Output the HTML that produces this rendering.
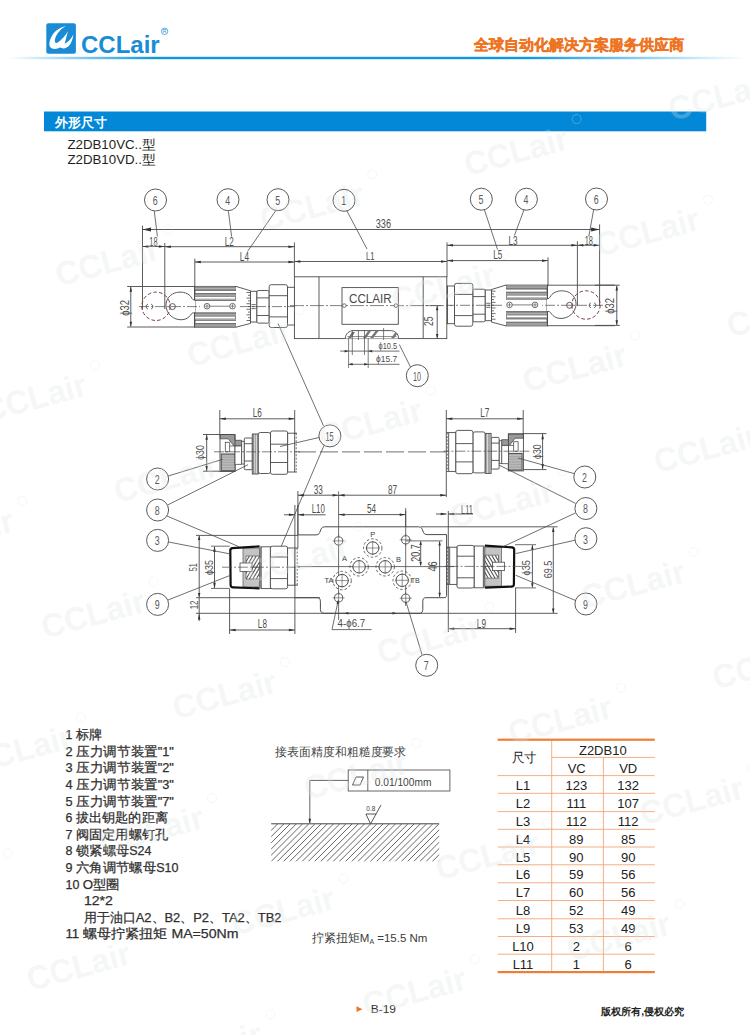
<!DOCTYPE html><html><head><meta charset="utf-8"><title>Z2DB10 外形尺寸</title><style>html,body{margin:0;padding:0;background:#fff;}body{width:750px;height:1035px;overflow:hidden;font-family:"Liberation Sans",sans-serif;}svg{display:block;}text{font-family:"Liberation Sans",sans-serif;}</style></head><body>
<svg width="750" height="1035" viewBox="0 0 750 1035">
<rect width="750" height="1035" fill="#fff"/>
<defs><linearGradient id="hl" x1="0" x2="1" y1="0" y2="0"><stop offset="0" stop-color="#0b97df" stop-opacity="0"/><stop offset="0.2" stop-color="#0b97df" stop-opacity="1"/><stop offset="0.7" stop-color="#0b97df" stop-opacity="1"/><stop offset="1" stop-color="#0b97df" stop-opacity="0"/></linearGradient></defs>
<rect x="8" y="56.8" width="738" height="2.4" fill="url(#hl)"/>
<rect x="46.3" y="23.3" width="29.6" height="30.5" rx="2" fill="#1a8cd6"/>
<path d="M65.9,26.1 C59.5,27.6 53.8,31.8 51.2,37.2 C48.8,42.2 48.8,46.4 51.2,48 C53.6,49.6 57.6,49.2 60,47.6 C63.2,49.2 66.8,48.4 69.2,45.6 C71.4,43 72.8,38.6 73.4,34.4 C71.6,38.4 68.4,41.8 64.6,43.8 C65.6,40 66.8,35.6 68,31.2 C65.4,35.4 61.6,40 57.8,42.6 C55.2,44 54.2,41.6 55.2,38.4 C56.6,34 60.6,29.2 65.9,26.1 Z" fill="#fff"/>
<text x="81.0" y="52.7" font-size="23.3" text-anchor="start" fill="#1a8cd6" font-weight="bold" font-family="Liberation Sans, sans-serif" textLength="78.7" lengthAdjust="spacingAndGlyphs" >CCLair</text>
<circle cx="164.6" cy="31.3" r="3.2" fill="none" stroke="#1a8cd6" stroke-width="0.7"/>
<text x="164.6" y="33.3" font-size="5" text-anchor="middle" fill="#1a8cd6" font-weight="normal" font-family="Liberation Sans, sans-serif" >R</text>
<text x="473.6" y="50.2" font-size="15" text-anchor="start" fill="#ee7423" font-weight="bold" font-family="Liberation Sans, sans-serif" textLength="210" lengthAdjust="spacingAndGlyphs" stroke="#ee7423" stroke-width="0.45">全球自动化解决方案服务供应商</text>
<rect x="44" y="111.5" width="662.2" height="19.8" fill="#0388d8"/>
<text x="55.0" y="127.3" font-size="13" text-anchor="start" fill="#fff" font-weight="bold" font-family="Liberation Sans, sans-serif" textLength="52" lengthAdjust="spacingAndGlyphs" >外形尺寸</text>
<text x="67.4" y="149.4" font-size="12.5" text-anchor="start" fill="#231f20" font-weight="normal" font-family="Liberation Sans, sans-serif" textLength="88.4" lengthAdjust="spacingAndGlyphs" >Z2DB10VC..型</text>
<text x="67.4" y="163.9" font-size="12.5" text-anchor="start" fill="#231f20" font-weight="normal" font-family="Liberation Sans, sans-serif" textLength="88.4" lengthAdjust="spacingAndGlyphs" >Z2DB10VD..型</text>
<line x1="142.5" y1="225.6" x2="142.5" y2="309.2" stroke="#4a4a4a" stroke-width="0.9" />
<line x1="164.8" y1="243.0" x2="164.8" y2="309.0" stroke="#4a4a4a" stroke-width="0.9" />
<line x1="194.8" y1="258.7" x2="194.8" y2="287.0" stroke="#4a4a4a" stroke-width="0.9" />
<line x1="294.4" y1="242.4" x2="294.4" y2="277.0" stroke="#4a4a4a" stroke-width="0.9" />
<line x1="447.0" y1="242.4" x2="447.0" y2="277.0" stroke="#4a4a4a" stroke-width="0.9" />
<line x1="548.0" y1="257.3" x2="548.0" y2="286.0" stroke="#4a4a4a" stroke-width="0.9" />
<line x1="577.4" y1="241.2" x2="577.4" y2="306.0" stroke="#4a4a4a" stroke-width="0.9" />
<line x1="599.6" y1="224.4" x2="599.6" y2="306.0" stroke="#4a4a4a" stroke-width="0.9" />
<line x1="142.5" y1="229.5" x2="599.6" y2="229.5" stroke="#4a4a4a" stroke-width="0.9" />
<path d="M142.5,229.5 L151.0,227.6 L151.0,231.4 Z" fill="#333" stroke="none"/>
<path d="M599.6,229.5 L591.1,231.4 L591.1,227.6 Z" fill="#333" stroke="none"/>
<text x="0" y="0" font-size="12" text-anchor="middle" fill="#4d4d4d" font-weight="normal" font-family="Liberation Sans, sans-serif" transform="translate(383.40 227.70) scale(0.76 1)" >336</text>
<line x1="142.5" y1="246.5" x2="164.8" y2="246.5" stroke="#4a4a4a" stroke-width="0.9" />
<path d="M142.5,246.5 L148.5,245.2 L148.5,247.8 Z" fill="#333" stroke="none"/>
<path d="M164.8,246.5 L158.8,247.8 L158.8,245.2 Z" fill="#333" stroke="none"/>
<text x="0" y="0" font-size="12" text-anchor="middle" fill="#4d4d4d" font-weight="normal" font-family="Liberation Sans, sans-serif" transform="translate(153.50 245.60) scale(0.62 1)" >18</text>
<line x1="577.4" y1="245.3" x2="599.6" y2="245.3" stroke="#4a4a4a" stroke-width="0.9" />
<path d="M577.4,245.3 L583.4,244.1 L583.4,246.6 Z" fill="#333" stroke="none"/>
<path d="M599.6,245.3 L593.6,246.6 L593.6,244.1 Z" fill="#333" stroke="none"/>
<text x="0" y="0" font-size="12" text-anchor="middle" fill="#4d4d4d" font-weight="normal" font-family="Liberation Sans, sans-serif" transform="translate(588.80 244.50) scale(0.62 1)" >18</text>
<line x1="164.8" y1="246.7" x2="294.4" y2="246.7" stroke="#4a4a4a" stroke-width="0.9" />
<path d="M164.8,246.7 L170.8,245.4 L170.8,247.9 Z" fill="#333" stroke="none"/>
<path d="M294.4,246.7 L288.4,247.9 L288.4,245.4 Z" fill="#333" stroke="none"/>
<text x="0" y="0" font-size="12" text-anchor="middle" fill="#4d4d4d" font-weight="normal" font-family="Liberation Sans, sans-serif" transform="translate(229.20 245.60) scale(0.68 1)" >L2</text>
<line x1="194.8" y1="262.0" x2="294.4" y2="262.0" stroke="#4a4a4a" stroke-width="0.9" />
<path d="M194.8,262.0 L200.8,260.8 L200.8,263.2 Z" fill="#333" stroke="none"/>
<path d="M294.4,262.0 L288.4,263.2 L288.4,260.8 Z" fill="#333" stroke="none"/>
<text x="0" y="0" font-size="12" text-anchor="middle" fill="#4d4d4d" font-weight="normal" font-family="Liberation Sans, sans-serif" transform="translate(244.40 260.80) scale(0.68 1)" >L4</text>
<line x1="294.4" y1="261.5" x2="447.0" y2="261.5" stroke="#4a4a4a" stroke-width="0.9" />
<path d="M294.4,261.5 L300.4,260.2 L300.4,262.8 Z" fill="#333" stroke="none"/>
<path d="M447.0,261.5 L441.0,262.8 L441.0,260.2 Z" fill="#333" stroke="none"/>
<text x="0" y="0" font-size="11.3" text-anchor="middle" fill="#4d4d4d" font-weight="normal" font-family="Liberation Sans, sans-serif" transform="translate(370.20 259.70) scale(0.68 1)" >L1</text>
<line x1="447.0" y1="245.3" x2="577.4" y2="245.3" stroke="#4a4a4a" stroke-width="0.9" />
<path d="M447.0,245.3 L453.0,244.1 L453.0,246.6 Z" fill="#333" stroke="none"/>
<path d="M577.4,245.3 L571.4,246.6 L571.4,244.1 Z" fill="#333" stroke="none"/>
<text x="0" y="0" font-size="12" text-anchor="middle" fill="#4d4d4d" font-weight="normal" font-family="Liberation Sans, sans-serif" transform="translate(513.00 244.70) scale(0.68 1)" >L3</text>
<line x1="447.0" y1="260.6" x2="548.0" y2="260.6" stroke="#4a4a4a" stroke-width="0.9" />
<path d="M447.0,260.6 L453.0,259.4 L453.0,261.9 Z" fill="#333" stroke="none"/>
<path d="M548.0,260.6 L542.0,261.9 L542.0,259.4 Z" fill="#333" stroke="none"/>
<text x="0" y="0" font-size="12" text-anchor="middle" fill="#4d4d4d" font-weight="normal" font-family="Liberation Sans, sans-serif" transform="translate(497.70 259.10) scale(0.68 1)" >L5</text>
<circle cx="155.5" cy="200.0" r="11.0" fill="none" stroke="#5a5a5a" stroke-width="1.0"/>
<text x="0" y="0" font-size="13.4" text-anchor="middle" fill="#5a5a5a" font-weight="normal" font-family="Liberation Sans, sans-serif" transform="translate(155.10 204.80) scale(0.66 1)" >6</text>
<circle cx="228.0" cy="199.7" r="11.0" fill="none" stroke="#5a5a5a" stroke-width="1.0"/>
<text x="0" y="0" font-size="13.4" text-anchor="middle" fill="#5a5a5a" font-weight="normal" font-family="Liberation Sans, sans-serif" transform="translate(227.60 204.50) scale(0.66 1)" >4</text>
<circle cx="278.0" cy="199.7" r="11.0" fill="none" stroke="#5a5a5a" stroke-width="1.0"/>
<text x="0" y="0" font-size="13.4" text-anchor="middle" fill="#5a5a5a" font-weight="normal" font-family="Liberation Sans, sans-serif" transform="translate(277.60 204.50) scale(0.66 1)" >5</text>
<circle cx="344.0" cy="200.3" r="11.0" fill="none" stroke="#5a5a5a" stroke-width="1.0"/>
<text x="0" y="0" font-size="13.4" text-anchor="middle" fill="#5a5a5a" font-weight="normal" font-family="Liberation Sans, sans-serif" transform="translate(343.60 205.10) scale(0.66 1)" >1</text>
<circle cx="481.3" cy="199.2" r="11.0" fill="none" stroke="#5a5a5a" stroke-width="1.0"/>
<text x="0" y="0" font-size="13.4" text-anchor="middle" fill="#5a5a5a" font-weight="normal" font-family="Liberation Sans, sans-serif" transform="translate(480.90 204.00) scale(0.66 1)" >5</text>
<circle cx="526.4" cy="199.2" r="11.0" fill="none" stroke="#5a5a5a" stroke-width="1.0"/>
<text x="0" y="0" font-size="13.4" text-anchor="middle" fill="#5a5a5a" font-weight="normal" font-family="Liberation Sans, sans-serif" transform="translate(526.00 204.00) scale(0.66 1)" >4</text>
<circle cx="596.5" cy="199.0" r="11.0" fill="none" stroke="#5a5a5a" stroke-width="1.0"/>
<text x="0" y="0" font-size="13.4" text-anchor="middle" fill="#5a5a5a" font-weight="normal" font-family="Liberation Sans, sans-serif" transform="translate(596.10 203.80) scale(0.66 1)" >6</text>
<line x1="154.3" y1="211.2" x2="157.4" y2="236.5" stroke="#4a4a4a" stroke-width="0.8" />
<line x1="228.4" y1="211.2" x2="231.6" y2="236.5" stroke="#4a4a4a" stroke-width="0.8" />
<line x1="275.5" y1="211.0" x2="247.5" y2="251.5" stroke="#4a4a4a" stroke-width="0.8" />
<line x1="346.9" y1="210.9" x2="367.0" y2="249.0" stroke="#4a4a4a" stroke-width="0.8" />
<line x1="484.4" y1="209.8" x2="497.6" y2="249.6" stroke="#4a4a4a" stroke-width="0.8" />
<line x1="524.0" y1="209.8" x2="514.4" y2="235.5" stroke="#4a4a4a" stroke-width="0.8" />
<line x1="593.6" y1="209.9" x2="588.8" y2="236.5" stroke="#4a4a4a" stroke-width="0.8" />
<g id="act1L">
<line x1="127.2" y1="286.5" x2="195.0" y2="286.5" stroke="#4a4a4a" stroke-width="0.9" />
<line x1="127.2" y1="327.0" x2="195.0" y2="327.0" stroke="#4a4a4a" stroke-width="0.9" />
<rect x="194.6" y="286.4" width="41.2" height="40.8" rx="0" fill="#fff" stroke="#4a4a4a" stroke-width="0.9" />
<rect x="195" y="286.6" width="40.6" height="3.8" fill="#8e8e8e"/>
<line x1="195" y1="288.5" x2="235.6" y2="288.5" stroke="#d0d0d0" stroke-width="0.5"/>
<rect x="195" y="293.4" width="40.6" height="3.6" fill="#8e8e8e"/>
<line x1="195" y1="295.2" x2="235.6" y2="295.2" stroke="#d0d0d0" stroke-width="0.5"/>
<rect x="195" y="298.7" width="40.6" height="1.8" fill="#8e8e8e"/>
<line x1="195" y1="299.6" x2="235.6" y2="299.6" stroke="#d0d0d0" stroke-width="0.5"/>
<rect x="195" y="312.8" width="40.6" height="4.0" fill="#8e8e8e"/>
<line x1="195" y1="314.8" x2="235.6" y2="314.8" stroke="#d0d0d0" stroke-width="0.5"/>
<rect x="195" y="318.5" width="40.6" height="1.8" fill="#8e8e8e"/>
<line x1="195" y1="319.4" x2="235.6" y2="319.4" stroke="#d0d0d0" stroke-width="0.5"/>
<rect x="195" y="323.4" width="40.6" height="3.6" fill="#8e8e8e"/>
<line x1="195" y1="325.2" x2="235.6" y2="325.2" stroke="#d0d0d0" stroke-width="0.5"/>
<rect x="195.0" y="290.4" width="43.0" height="3.0" rx="0" fill="#fff" stroke="#4a4a4a" stroke-width="0.7" />
<rect x="195.0" y="300.5" width="43.0" height="12.3" rx="0" fill="#fff" stroke="#4a4a4a" stroke-width="0.7" />
<rect x="195.0" y="320.3" width="43.0" height="3.1" rx="0" fill="#fff" stroke="#4a4a4a" stroke-width="0.7" />
<line x1="194.6" y1="286.4" x2="194.6" y2="327.2" stroke="#4a4a4a" stroke-width="0.9" />
<path d="M236,286.4 L250.5,290.8 L250.5,323.4 L236,327.2" fill="#fff" stroke="#4a4a4a" stroke-width="0.9" />
<line x1="246.5" y1="292.5" x2="250.5" y2="292.5" stroke="#4a4a4a" stroke-width="0.8" />
<line x1="248.0" y1="295.3" x2="250.5" y2="295.3" stroke="#4a4a4a" stroke-width="0.8" />
<line x1="246.5" y1="298.1" x2="250.5" y2="298.1" stroke="#4a4a4a" stroke-width="0.8" />
<line x1="248.0" y1="300.9" x2="250.5" y2="300.9" stroke="#4a4a4a" stroke-width="0.8" />
<line x1="246.5" y1="303.7" x2="250.5" y2="303.7" stroke="#4a4a4a" stroke-width="0.8" />
<line x1="248.0" y1="306.5" x2="250.5" y2="306.5" stroke="#4a4a4a" stroke-width="0.8" />
<line x1="246.5" y1="309.3" x2="250.5" y2="309.3" stroke="#4a4a4a" stroke-width="0.8" />
<line x1="248.0" y1="312.1" x2="250.5" y2="312.1" stroke="#4a4a4a" stroke-width="0.8" />
<line x1="246.5" y1="314.9" x2="250.5" y2="314.9" stroke="#4a4a4a" stroke-width="0.8" />
<line x1="248.0" y1="317.7" x2="250.5" y2="317.7" stroke="#4a4a4a" stroke-width="0.8" />
<line x1="246.5" y1="320.5" x2="250.5" y2="320.5" stroke="#4a4a4a" stroke-width="0.8" />
<rect x="250.5" y="291.3" width="6.4" height="30.7" rx="0" fill="#fff" stroke="#4a4a4a" stroke-width="0.9" />
<line x1="251.5" y1="304.6" x2="255.8" y2="304.6" stroke="#4a4a4a" stroke-width="0.8" />
<line x1="251.5" y1="306.6" x2="255.8" y2="306.6" stroke="#4a4a4a" stroke-width="0.8" />
<line x1="251.5" y1="308.6" x2="255.8" y2="308.6" stroke="#4a4a4a" stroke-width="0.8" />
<rect x="256.9" y="290.5" width="12.3" height="32.6" rx="1.5" fill="#fff" stroke="#4a4a4a" stroke-width="0.9" />
<line x1="256.9" y1="297.9" x2="269.2" y2="297.9" stroke="#4a4a4a" stroke-width="0.9" />
<line x1="256.9" y1="315.5" x2="269.2" y2="315.5" stroke="#4a4a4a" stroke-width="0.9" />
<rect x="269.2" y="284.7" width="18.3" height="42.8" rx="2" fill="#fff" stroke="#4a4a4a" stroke-width="0.9" />
<line x1="269.2" y1="295.7" x2="287.5" y2="295.7" stroke="#4a4a4a" stroke-width="0.9" />
<line x1="269.2" y1="316.9" x2="287.5" y2="316.9" stroke="#4a4a4a" stroke-width="0.9" />
<rect x="287.5" y="287.3" width="7.0" height="37.7" rx="0" fill="#fff" stroke="#4a4a4a" stroke-width="0.9" />
<line x1="295.9" y1="287.3" x2="295.9" y2="325.0" stroke="#4a4a4a" stroke-width="0.9" stroke-dasharray="2,1.5" />
<line x1="294.5" y1="287.3" x2="297.4" y2="287.3" stroke="#4a4a4a" stroke-width="0.9" />
<line x1="294.5" y1="325.0" x2="297.4" y2="325.0" stroke="#4a4a4a" stroke-width="0.9" />
<path d="M195,300.2 C192,300.2 191.5,297 190,295.6 C185,291 177,291.5 172.5,294 C166.5,297.5 165,304 166.5,309 C168.5,316.5 177,321.5 185,319.2 C188.5,318 190,316 191.5,313.8 C192.5,312.6 193.5,312.8 195,312.8" fill="#fff" stroke="#4a4a4a" stroke-width="0.9" />
<circle cx="172.4" cy="306.6" r="3.0" fill="none" stroke="#4a4a4a" stroke-width="0.9"/>
<circle cx="156.0" cy="306.3" r="14.2" fill="none" stroke="#7a3c44" stroke-width="1.0" stroke-dasharray="3.6,2.2"/>
<path d="M148,304.1 A2.6,2.6 0 0 0 148,309.1" fill="none" stroke="#4a4a4a" stroke-width="0.8" />
<path d="M151,304.1 A2.6,2.6 0 0 1 151,309.1" fill="none" stroke="#4a4a4a" stroke-width="0.8" />
<circle cx="207.0" cy="306.2" r="2.8" fill="#fff" stroke="#4a4a4a" stroke-width="0.8"/>
<line x1="205.0" y1="306.2" x2="209.0" y2="306.2" stroke="#4a4a4a" stroke-width="0.6" />
<line x1="207.0" y1="304.2" x2="207.0" y2="308.2" stroke="#4a4a4a" stroke-width="0.6" />
<circle cx="232.5" cy="306.2" r="2.8" fill="#fff" stroke="#4a4a4a" stroke-width="0.8"/>
<line x1="230.5" y1="306.2" x2="234.5" y2="306.2" stroke="#4a4a4a" stroke-width="0.6" />
<line x1="232.5" y1="304.2" x2="232.5" y2="308.2" stroke="#4a4a4a" stroke-width="0.6" />
<line x1="209.8" y1="306.2" x2="229.7" y2="306.2" stroke="#4a4a4a" stroke-width="0.7" />
<line x1="139.0" y1="306.6" x2="200.0" y2="306.6" stroke="#4a4a4a" stroke-width="0.7" stroke-dasharray="10,2,2,2" />
<line x1="240.0" y1="306.6" x2="300.0" y2="306.6" stroke="#4a4a4a" stroke-width="0.7" stroke-dasharray="10,2,2,2" />
</g>
<use href="#act1L" transform="translate(742,-1.3) scale(-1,1)"/>
<line x1="130.8" y1="287.0" x2="130.8" y2="326.5" stroke="#4a4a4a" stroke-width="0.9" />
<path d="M130.8,286.8 L132.1,291.8 L129.6,291.8 Z" fill="#333" stroke="none"/>
<path d="M130.8,326.8 L129.6,321.8 L132.1,321.8 Z" fill="#333" stroke="none"/>
<text x="0" y="0" font-size="12" text-anchor="middle" fill="#4d4d4d" font-weight="normal" font-family="Liberation Sans, sans-serif" transform="translate(128.60 307.90) rotate(-90) scale(0.78 1)" >ϕ32</text>
<line x1="595.0" y1="285.2" x2="619.8" y2="285.2" stroke="#4a4a4a" stroke-width="0.9" />
<line x1="595.0" y1="325.4" x2="619.8" y2="325.4" stroke="#4a4a4a" stroke-width="0.9" />
<line x1="616.8" y1="285.7" x2="616.8" y2="325.0" stroke="#4a4a4a" stroke-width="0.9" />
<path d="M616.8,285.4 L618.0,290.4 L615.5,290.4 Z" fill="#333" stroke="none"/>
<path d="M616.8,325.2 L615.5,320.2 L618.0,320.2 Z" fill="#333" stroke="none"/>
<text x="0" y="0" font-size="12" text-anchor="middle" fill="#4d4d4d" font-weight="normal" font-family="Liberation Sans, sans-serif" transform="translate(614.30 305.90) rotate(-90) scale(0.78 1)" >ϕ32</text>
<rect x="294.4" y="276.8" width="152.4" height="61.8" rx="0" fill="#fff" stroke="#4a4a4a" stroke-width="0.9" />
<line x1="319.0" y1="276.8" x2="319.0" y2="338.6" stroke="#4a4a4a" stroke-width="0.9" />
<line x1="423.2" y1="276.8" x2="423.2" y2="338.6" stroke="#4a4a4a" stroke-width="0.9" />
<rect x="342.0" y="287.6" width="56.3" height="36.7" rx="0" fill="#fff" stroke="#4a4a4a" stroke-width="0.9" />
<text x="349.0" y="302.7" font-size="12.5" text-anchor="start" fill="#484848" font-weight="normal" font-family="Liberation Sans, sans-serif" textLength="42.6" lengthAdjust="spacingAndGlyphs" >CCLAIR</text>
<line x1="290.0" y1="305.6" x2="452.0" y2="305.6" stroke="#4a4a4a" stroke-width="0.7" stroke-dasharray="14,2,2,2" />
<circle cx="344.3" cy="305.6" r="1.8" fill="#fff" stroke="#4a4a4a" stroke-width="0.8"/>
<circle cx="395.9" cy="305.6" r="1.8" fill="#fff" stroke="#4a4a4a" stroke-width="0.8"/>
<path d="M345.3,338.6 C345.5,333.5 349,330.6 354,330.6 L390,330.6 C395,330.6 398.4,333.5 398.6,338.6" fill="#fff" stroke="#4a4a4a" stroke-width="0.9" />
<line x1="347.5" y1="336.5" x2="396.5" y2="336.5" stroke="#4a4a4a" stroke-width="0.6" />
<path d="M348,338.3 L352,332 L355,332 L351,338.3 Z M363,338.3 L368,331 L371,331 L366,338.3 Z M370,338.3 L375.5,331 L378.5,331 L373,338.3 Z M391,338.3 L395.5,332 L397.5,333.5 L394,338.3 Z" fill="#777"/>
<line x1="348.6" y1="338.0" x2="348.6" y2="368.0" stroke="#4a4a4a" stroke-width="0.7" />
<line x1="352.3" y1="330.0" x2="352.3" y2="355.0" stroke="#4a4a4a" stroke-width="0.7" />
<line x1="358.4" y1="330.0" x2="358.4" y2="340.0" stroke="#4a4a4a" stroke-width="0.7" />
<line x1="364.5" y1="330.0" x2="364.5" y2="355.0" stroke="#4a4a4a" stroke-width="0.7" />
<line x1="368.2" y1="338.0" x2="368.2" y2="368.0" stroke="#4a4a4a" stroke-width="0.7" />
<line x1="383.6" y1="328.0" x2="383.6" y2="340.0" stroke="#4a4a4a" stroke-width="0.7" />
<line x1="340.2" y1="351.1" x2="399.5" y2="351.1" stroke="#4a4a4a" stroke-width="0.8" />
<path d="M348.6,351.1 L344.6,352.4 L344.6,349.9 Z" fill="#333" stroke="none"/>
<path d="M368.2,351.1 L372.2,349.9 L372.2,352.4 Z" fill="#333" stroke="none"/>
<text x="0" y="0" font-size="9.8" text-anchor="start" fill="#4d4d4d" font-weight="normal" font-family="Liberation Sans, sans-serif" transform="translate(378.50 348.60) scale(0.76 1)" >ϕ10.5</text>
<line x1="348.6" y1="364.3" x2="399.5" y2="364.3" stroke="#4a4a4a" stroke-width="0.8" />
<path d="M348.6,364.3 L352.6,363.1 L352.6,365.6 Z" fill="#333" stroke="none"/>
<path d="M368.2,364.3 L364.2,365.6 L364.2,363.1 Z" fill="#333" stroke="none"/>
<text x="0" y="0" font-size="9.8" text-anchor="start" fill="#4d4d4d" font-weight="normal" font-family="Liberation Sans, sans-serif" transform="translate(376.10 361.70) scale(0.86 1)" >ϕ15.7</text>
<circle cx="417.3" cy="375.7" r="11.0" fill="none" stroke="#5a5a5a" stroke-width="1.0"/>
<text x="0" y="0" font-size="13.4" text-anchor="middle" fill="#5a5a5a" font-weight="normal" font-family="Liberation Sans, sans-serif" transform="translate(416.90 380.50) scale(0.54 1)" >10</text>
<line x1="410.5" y1="367.0" x2="399.3" y2="344.5" stroke="#4a4a4a" stroke-width="0.8" />
<line x1="425.0" y1="305.6" x2="441.0" y2="305.6" stroke="#4a4a4a" stroke-width="0.6" />
<line x1="437.2" y1="306.0" x2="437.2" y2="338.2" stroke="#4a4a4a" stroke-width="0.9" />
<path d="M437.2,305.8 L438.4,310.3 L435.9,310.3 Z" fill="#333" stroke="none"/>
<path d="M437.2,338.4 L435.9,333.9 L438.4,333.9 Z" fill="#333" stroke="none"/>
<text x="0" y="0" font-size="12" text-anchor="middle" fill="#4d4d4d" font-weight="normal" font-family="Liberation Sans, sans-serif" transform="translate(433.40 321.20) rotate(-90) scale(0.72 1)" >25</text>
<g id="act2L">
<path d="M220,434.5 L235,434.5 L235,440.3 L241.7,440.3 L241.7,446 L234,446 L228.3,438.8 L220,438.8 Z" fill="#9a9a9a" stroke="#4a4a4a" stroke-width="0.8"/>
<rect x="220.0" y="434.5" width="15.0" height="37.0" rx="0" fill="none" stroke="#4a4a4a" stroke-width="0.9" />
<rect x="225.3" y="442.3" width="4.4" height="9.5" rx="0" fill="#fff" stroke="#4a4a4a" stroke-width="0.8" />
<line x1="229.7" y1="446.0" x2="234.0" y2="446.0" stroke="#4a4a4a" stroke-width="0.8" />
<rect x="221.3" y="454.0" width="13.7" height="16.7" rx="0" fill="#a8a8a8" stroke="#4a4a4a" stroke-width="1.0" />
<line x1="221.8" y1="456.0" x2="234.5" y2="456.0" stroke="#d8d8d8" stroke-width="0.5" />
<line x1="221.8" y1="458.6" x2="234.5" y2="458.6" stroke="#d8d8d8" stroke-width="0.5" />
<line x1="221.8" y1="461.2" x2="234.5" y2="461.2" stroke="#d8d8d8" stroke-width="0.5" />
<line x1="221.8" y1="463.8" x2="234.5" y2="463.8" stroke="#d8d8d8" stroke-width="0.5" />
<line x1="221.8" y1="466.4" x2="234.5" y2="466.4" stroke="#d8d8d8" stroke-width="0.5" />
<line x1="221.8" y1="469.0" x2="234.5" y2="469.0" stroke="#d8d8d8" stroke-width="0.5" />
<rect x="235.0" y="446.0" width="6.7" height="18.3" rx="0" fill="#fff" stroke="#4a4a4a" stroke-width="0.8" />
<rect x="241.7" y="441.3" width="2.6" height="22.7" rx="0" fill="#fff" stroke="#4a4a4a" stroke-width="0.8" />
<rect x="244.3" y="438.0" width="8.0" height="31.7" rx="1" fill="#fff" stroke="#4a4a4a" stroke-width="0.9" />
<line x1="244.3" y1="443.7" x2="252.3" y2="443.7" stroke="#4a4a4a" stroke-width="0.9" />
<line x1="244.3" y1="461.0" x2="252.3" y2="461.0" stroke="#4a4a4a" stroke-width="0.9" />
<rect x="252.3" y="434.0" width="6.0" height="40.0" rx="0" fill="#fff" stroke="#4a4a4a" stroke-width="0.9" />
<line x1="253.6" y1="434.0" x2="253.6" y2="474.0" stroke="#4a4a4a" stroke-width="0.7" />
<line x1="255.2" y1="434.0" x2="255.2" y2="474.0" stroke="#4a4a4a" stroke-width="0.7" />
<line x1="257.2" y1="434.0" x2="257.2" y2="474.0" stroke="#4a4a4a" stroke-width="0.7" />
<rect x="258.3" y="432.5" width="12.2" height="41.0" rx="2" fill="#fff" stroke="#4a4a4a" stroke-width="0.9" />
<rect x="270.5" y="431.0" width="17.2" height="43.3" rx="2" fill="#fff" stroke="#4a4a4a" stroke-width="0.9" />
<line x1="270.5" y1="444.2" x2="287.7" y2="444.2" stroke="#4a4a4a" stroke-width="0.9" />
<line x1="270.5" y1="462.5" x2="287.7" y2="462.5" stroke="#4a4a4a" stroke-width="0.9" />
<rect x="287.7" y="433.2" width="7.0" height="38.8" rx="0" fill="#fff" stroke="#4a4a4a" stroke-width="0.9" />
<line x1="296.2" y1="433.2" x2="296.2" y2="472.0" stroke="#4a4a4a" stroke-width="0.8" stroke-dasharray="2,1.5" />
<line x1="294.7" y1="433.2" x2="297.0" y2="433.2" stroke="#4a4a4a" stroke-width="0.9" />
<line x1="294.7" y1="472.0" x2="297.0" y2="472.0" stroke="#4a4a4a" stroke-width="0.9" />
<line x1="214.0" y1="451.8" x2="300.0" y2="451.8" stroke="#4a4a4a" stroke-width="0.7" stroke-dasharray="10,2,2,2" />
</g>
<use href="#act2L" transform="translate(743.4,-0.6) scale(-1,1)"/>
<line x1="219.8" y1="410.0" x2="219.8" y2="435.0" stroke="#4a4a4a" stroke-width="0.9" />
<line x1="294.7" y1="410.0" x2="294.7" y2="434.0" stroke="#4a4a4a" stroke-width="0.9" />
<line x1="219.8" y1="418.8" x2="294.7" y2="418.8" stroke="#4a4a4a" stroke-width="0.9" />
<path d="M219.8,418.8 L225.8,417.6 L225.8,420.1 Z" fill="#333" stroke="none"/>
<path d="M294.7,418.8 L288.7,420.1 L288.7,417.6 Z" fill="#333" stroke="none"/>
<text x="0" y="0" font-size="12" text-anchor="middle" fill="#4d4d4d" font-weight="normal" font-family="Liberation Sans, sans-serif" transform="translate(257.30 417.30) scale(0.68 1)" >L6</text>
<line x1="446.3" y1="410.0" x2="446.3" y2="497.0" stroke="#4a4a4a" stroke-width="0.9" />
<line x1="523.2" y1="410.0" x2="523.2" y2="434.0" stroke="#4a4a4a" stroke-width="0.9" />
<line x1="446.3" y1="418.8" x2="523.2" y2="418.8" stroke="#4a4a4a" stroke-width="0.9" />
<path d="M446.3,418.8 L452.3,417.6 L452.3,420.1 Z" fill="#333" stroke="none"/>
<path d="M523.2,418.8 L517.2,420.1 L517.2,417.6 Z" fill="#333" stroke="none"/>
<text x="0" y="0" font-size="12" text-anchor="middle" fill="#4d4d4d" font-weight="normal" font-family="Liberation Sans, sans-serif" transform="translate(484.80 417.00) scale(0.68 1)" >L7</text>
<line x1="203.0" y1="434.5" x2="219.8" y2="434.5" stroke="#4a4a4a" stroke-width="0.9" />
<line x1="203.0" y1="471.2" x2="220.0" y2="471.2" stroke="#4a4a4a" stroke-width="0.9" />
<line x1="206.7" y1="435.0" x2="206.7" y2="470.8" stroke="#4a4a4a" stroke-width="0.9" />
<path d="M206.7,434.7 L207.9,439.7 L205.4,439.7 Z" fill="#333" stroke="none"/>
<path d="M206.7,471.1 L205.4,466.1 L207.9,466.1 Z" fill="#333" stroke="none"/>
<text x="0" y="0" font-size="11.2" text-anchor="middle" fill="#4d4d4d" font-weight="normal" font-family="Liberation Sans, sans-serif" transform="translate(204.10 452.50) rotate(-90) scale(0.78 1)" >ϕ30</text>
<line x1="523.2" y1="433.6" x2="546.5" y2="433.6" stroke="#4a4a4a" stroke-width="0.9" />
<line x1="523.2" y1="469.6" x2="546.5" y2="469.6" stroke="#4a4a4a" stroke-width="0.9" />
<line x1="542.6" y1="434.0" x2="542.6" y2="469.0" stroke="#4a4a4a" stroke-width="0.9" />
<path d="M542.6,433.8 L543.9,439.3 L541.4,439.3 Z" fill="#333" stroke="none"/>
<path d="M542.6,469.4 L541.4,463.9 L543.9,463.9 Z" fill="#333" stroke="none"/>
<text x="0" y="0" font-size="11.2" text-anchor="middle" fill="#4d4d4d" font-weight="normal" font-family="Liberation Sans, sans-serif" transform="translate(540.60 451.60) rotate(-90) scale(0.78 1)" >ϕ30</text>
<line x1="298.0" y1="451.9" x2="446.0" y2="451.9" stroke="#4a4a4a" stroke-width="0.8" stroke-dasharray="18,4" />
<circle cx="329.9" cy="435.9" r="11.0" fill="none" stroke="#5a5a5a" stroke-width="1.0"/>
<text x="0" y="0" font-size="13.4" text-anchor="middle" fill="#5a5a5a" font-weight="normal" font-family="Liberation Sans, sans-serif" transform="translate(329.50 440.70) scale(0.54 1)" >15</text>
<line x1="323.6" y1="426.0" x2="278.0" y2="323.5" stroke="#4a4a4a" stroke-width="0.8" />
<line x1="319.0" y1="437.5" x2="280.0" y2="446.5" stroke="#4a4a4a" stroke-width="0.8" />
<line x1="324.0" y1="445.5" x2="281.0" y2="546.8" stroke="#4a4a4a" stroke-width="0.8" />
<line x1="297.9" y1="491.0" x2="297.9" y2="535.0" stroke="#4a4a4a" stroke-width="0.9" />
<line x1="338.6" y1="491.3" x2="338.6" y2="620.0" stroke="#4a4a4a" stroke-width="0.8" />
<line x1="297.9" y1="495.2" x2="338.6" y2="495.2" stroke="#4a4a4a" stroke-width="0.9" />
<path d="M297.9,495.2 L303.9,493.9 L303.9,496.4 Z" fill="#333" stroke="none"/>
<path d="M338.6,495.2 L332.6,496.4 L332.6,493.9 Z" fill="#333" stroke="none"/>
<text x="0" y="0" font-size="12" text-anchor="middle" fill="#4d4d4d" font-weight="normal" font-family="Liberation Sans, sans-serif" transform="translate(318.30 493.60) scale(0.68 1)" >33</text>
<line x1="338.6" y1="495.2" x2="446.2" y2="495.2" stroke="#4a4a4a" stroke-width="0.9" />
<path d="M338.6,495.2 L344.6,493.9 L344.6,496.4 Z" fill="#333" stroke="none"/>
<path d="M446.2,495.2 L440.2,496.4 L440.2,493.9 Z" fill="#333" stroke="none"/>
<text x="0" y="0" font-size="12" text-anchor="middle" fill="#4d4d4d" font-weight="normal" font-family="Liberation Sans, sans-serif" transform="translate(392.60 493.60) scale(0.68 1)" >87</text>
<g id="act3L">
<rect x="243" y="548" width="16.6" height="39" fill="#c4c4c4" stroke="#555" stroke-width="0.7"/>
<path d="M246,556 L259.6,556 L259.6,579 L246,579 Z" fill="#fff" stroke="#555" stroke-width="0.7"/>
<clipPath id="cpact3L"><rect x="246" y="556" width="13.6" height="23"/></clipPath>
<path d="M232.4,579 L246.0,556 M235.8,579 L249.4,556 M239.2,579 L252.8,556 M242.6,579 L256.2,556 M246.0,579 L259.6,556 M249.4,579 L263.0,556 M252.8,579 L266.4,556 M256.2,579 L269.8,556 M259.6,579 L273.2,556 M263.0,579 L276.6,556 M266.4,579 L280.0,556 M269.8,579 L283.4,556" stroke="#555" stroke-width="1.1" clip-path="url(#cpact3L)"/>
<rect x="240.0" y="563.0" width="12.0" height="8.4" rx="0" fill="#fff" stroke="#4a4a4a" stroke-width="0.8" />
<line x1="252.0" y1="567.2" x2="259.6" y2="567.2" stroke="#4a4a4a" stroke-width="0.6" />
<path d="M259.6,546.4 L232.5,548.2 Q230.3,548.4 230.3,550.6 L230.6,585 Q230.7,587.3 233,587.4 L259.6,588.4" fill="none" stroke="#111" stroke-width="2.2"/>
<rect x="261.2" y="546.8" width="9.2" height="41.8" rx="0" fill="#fff" stroke="#4a4a4a" stroke-width="0.9" />
<line x1="260.3" y1="546.4" x2="260.3" y2="588.6" stroke="#4a4a4a" stroke-width="0.7" />
<rect x="270.4" y="546.2" width="17.2" height="42.6" rx="2" fill="#fff" stroke="#4a4a4a" stroke-width="0.9" />
<line x1="270.4" y1="557.0" x2="287.6" y2="557.0" stroke="#4a4a4a" stroke-width="0.9" />
<line x1="270.4" y1="578.6" x2="287.6" y2="578.6" stroke="#4a4a4a" stroke-width="0.9" />
<rect x="287.6" y="548.0" width="7.2" height="37.2" rx="0" fill="#fff" stroke="#4a4a4a" stroke-width="0.9" />
<line x1="297.2" y1="548.0" x2="297.2" y2="585.2" stroke="#4a4a4a" stroke-width="0.8" stroke-dasharray="2,1.5" />
<line x1="294.8" y1="548.0" x2="297.8" y2="548.0" stroke="#4a4a4a" stroke-width="0.9" />
<line x1="294.8" y1="585.2" x2="297.8" y2="585.2" stroke="#4a4a4a" stroke-width="0.9" />
<line x1="222.0" y1="567.2" x2="300.0" y2="567.2" stroke="#4a4a4a" stroke-width="0.7" stroke-dasharray="10,2,2,2" />
</g>
<use href="#act3L" transform="translate(744.5,-0.8) scale(-1,1)"/>
<line x1="294.9" y1="505.0" x2="294.9" y2="634.0" stroke="#4a4a4a" stroke-width="0.9" />
<line x1="297.9" y1="505.0" x2="297.9" y2="548.0" stroke="#4a4a4a" stroke-width="0.9" />
<line x1="448.3" y1="511.0" x2="448.3" y2="632.0" stroke="#4a4a4a" stroke-width="0.9" />
<line x1="196.0" y1="535.4" x2="297.9" y2="535.4" stroke="#4a4a4a" stroke-width="0.9" />
<line x1="196.0" y1="597.7" x2="320.0" y2="597.7" stroke="#4a4a4a" stroke-width="0.9" />
<line x1="196.0" y1="613.3" x2="557.6" y2="613.3" stroke="#4a4a4a" stroke-width="0.9" />
<line x1="421.0" y1="526.8" x2="557.6" y2="526.8" stroke="#4a4a4a" stroke-width="0.9" />
<path d="M297.9,534.9 L316,534.9 C319,534.9 319.5,533 320.3,531 C321,529 321.5,526.8 324.6,526.8 L418.5,526.8 C421.6,526.8 422.2,529 422.9,531 C423.6,533 424.2,534.6 427.2,534.6 L446.6,534.6 L446.6,595.5 C446.6,597 445.5,597.7 444,597.7 L426,597.7 C423.5,597.7 422.8,599 422.8,601.5 L422.8,609.5 C422.8,612 421.5,613.3 419,613.3 L324.5,613.3 C322,613.3 320.4,612 320.4,609.5 L320.4,601.5 C320.4,599 319.5,597.7 317,597.7 L294.9,597.7" fill="none" stroke="#4a4a4a" stroke-width="1.0" />
<line x1="297.9" y1="566.6" x2="454.0" y2="566.6" stroke="#4a4a4a" stroke-width="0.8" />
<line x1="405.7" y1="508.0" x2="405.7" y2="606.0" stroke="#4a4a4a" stroke-width="0.8" />
<circle cx="338.6" cy="540.9" r="4.1" fill="#fff" stroke="#4a4a4a" stroke-width="0.9"/>
<line x1="332.6" y1="540.9" x2="344.6" y2="540.9" stroke="#4a4a4a" stroke-width="0.6" />
<line x1="338.6" y1="534.9" x2="338.6" y2="546.9" stroke="#4a4a4a" stroke-width="0.6" />
<circle cx="405.7" cy="539.8" r="4.1" fill="#fff" stroke="#4a4a4a" stroke-width="0.9"/>
<line x1="399.7" y1="539.8" x2="411.7" y2="539.8" stroke="#4a4a4a" stroke-width="0.6" />
<line x1="405.7" y1="533.8" x2="405.7" y2="545.8" stroke="#4a4a4a" stroke-width="0.6" />
<circle cx="338.6" cy="597.8" r="4.1" fill="#fff" stroke="#4a4a4a" stroke-width="0.9"/>
<line x1="332.6" y1="597.8" x2="344.6" y2="597.8" stroke="#4a4a4a" stroke-width="0.6" />
<line x1="338.6" y1="591.8" x2="338.6" y2="603.8" stroke="#4a4a4a" stroke-width="0.6" />
<circle cx="405.7" cy="598.2" r="4.1" fill="#fff" stroke="#4a4a4a" stroke-width="0.9"/>
<line x1="399.7" y1="598.2" x2="411.7" y2="598.2" stroke="#4a4a4a" stroke-width="0.6" />
<line x1="405.7" y1="592.2" x2="405.7" y2="604.2" stroke="#4a4a4a" stroke-width="0.6" />
<circle cx="372.7" cy="548.0" r="9.2" fill="none" stroke="#555" stroke-width="0.9" stroke-dasharray="2.6,2"/>
<circle cx="372.7" cy="548.0" r="6.2" fill="#fff" stroke="#4a4a4a" stroke-width="1.0"/>
<line x1="365.7" y1="548.0" x2="379.7" y2="548.0" stroke="#4a4a4a" stroke-width="0.6" />
<line x1="372.7" y1="541.0" x2="372.7" y2="555.0" stroke="#4a4a4a" stroke-width="0.6" />
<circle cx="359.1" cy="566.8" r="9.2" fill="none" stroke="#555" stroke-width="0.9" stroke-dasharray="2.6,2"/>
<circle cx="359.1" cy="566.8" r="6.2" fill="#fff" stroke="#4a4a4a" stroke-width="1.0"/>
<line x1="352.1" y1="566.8" x2="366.1" y2="566.8" stroke="#4a4a4a" stroke-width="0.6" />
<line x1="359.1" y1="559.8" x2="359.1" y2="573.8" stroke="#4a4a4a" stroke-width="0.6" />
<circle cx="385.2" cy="566.8" r="9.2" fill="none" stroke="#555" stroke-width="0.9" stroke-dasharray="2.6,2"/>
<circle cx="385.2" cy="566.8" r="6.2" fill="#fff" stroke="#4a4a4a" stroke-width="1.0"/>
<line x1="378.2" y1="566.8" x2="392.2" y2="566.8" stroke="#4a4a4a" stroke-width="0.6" />
<line x1="385.2" y1="559.8" x2="385.2" y2="573.8" stroke="#4a4a4a" stroke-width="0.6" />
<circle cx="342.1" cy="580.6" r="9.2" fill="none" stroke="#555" stroke-width="0.9" stroke-dasharray="2.6,2"/>
<circle cx="342.1" cy="580.6" r="6.2" fill="#fff" stroke="#4a4a4a" stroke-width="1.0"/>
<line x1="335.1" y1="580.6" x2="349.1" y2="580.6" stroke="#4a4a4a" stroke-width="0.6" />
<line x1="342.1" y1="573.6" x2="342.1" y2="587.6" stroke="#4a4a4a" stroke-width="0.6" />
<circle cx="402.2" cy="580.3" r="9.2" fill="none" stroke="#555" stroke-width="0.9" stroke-dasharray="2.6,2"/>
<circle cx="402.2" cy="580.3" r="6.2" fill="#fff" stroke="#4a4a4a" stroke-width="1.0"/>
<line x1="395.2" y1="580.3" x2="409.2" y2="580.3" stroke="#4a4a4a" stroke-width="0.6" />
<line x1="402.2" y1="573.3" x2="402.2" y2="587.3" stroke="#4a4a4a" stroke-width="0.6" />
<text x="372.7" y="537.4" font-size="7.5" text-anchor="middle" fill="#3a3a3a" font-weight="normal" font-family="Liberation Sans, sans-serif" >P</text>
<text x="344.4" y="561.2" font-size="7.5" text-anchor="middle" fill="#3a3a3a" font-weight="normal" font-family="Liberation Sans, sans-serif" >A</text>
<text x="398.5" y="561.5" font-size="7.5" text-anchor="middle" fill="#3a3a3a" font-weight="normal" font-family="Liberation Sans, sans-serif" >B</text>
<text x="333.5" y="583.0" font-size="7.5" text-anchor="end" fill="#3a3a3a" font-weight="normal" font-family="Liberation Sans, sans-serif" textLength="9" lengthAdjust="spacingAndGlyphs" >TA</text>
<text x="410.8" y="583.0" font-size="7.5" text-anchor="start" fill="#3a3a3a" font-weight="normal" font-family="Liberation Sans, sans-serif" textLength="9" lengthAdjust="spacingAndGlyphs" >TB</text>
<line x1="405.7" y1="510.6" x2="405.7" y2="527.0" stroke="#4a4a4a" stroke-width="0.9" />
<line x1="338.6" y1="514.6" x2="405.7" y2="514.6" stroke="#4a4a4a" stroke-width="0.9" />
<path d="M338.6,514.6 L344.6,513.4 L344.6,515.9 Z" fill="#333" stroke="none"/>
<path d="M405.7,514.6 L399.7,515.9 L399.7,513.4 Z" fill="#333" stroke="none"/>
<text x="0" y="0" font-size="12" text-anchor="middle" fill="#4d4d4d" font-weight="normal" font-family="Liberation Sans, sans-serif" transform="translate(371.60 512.90) scale(0.68 1)" >54</text>
<line x1="284.0" y1="514.8" x2="294.9" y2="514.8" stroke="#4a4a4a" stroke-width="0.9" />
<path d="M294.9,514.8 L288.9,516.0 L288.9,513.5 Z" fill="#333" stroke="none"/>
<line x1="297.9" y1="514.8" x2="325.5" y2="514.8" stroke="#4a4a4a" stroke-width="0.9" />
<path d="M297.9,514.8 L303.9,513.5 L303.9,516.0 Z" fill="#333" stroke="none"/>
<text x="0" y="0" font-size="12" text-anchor="middle" fill="#4d4d4d" font-weight="normal" font-family="Liberation Sans, sans-serif" transform="translate(318.30 512.90) scale(0.66 1)" >L10</text>
<line x1="436.0" y1="514.0" x2="446.6" y2="514.0" stroke="#4a4a4a" stroke-width="0.9" />
<path d="M446.6,514.0 L440.6,515.2 L440.6,512.8 Z" fill="#333" stroke="none"/>
<line x1="448.3" y1="514.0" x2="473.0" y2="514.0" stroke="#4a4a4a" stroke-width="0.9" />
<path d="M448.3,514.0 L454.3,512.8 L454.3,515.2 Z" fill="#333" stroke="none"/>
<text x="0" y="0" font-size="12" text-anchor="middle" fill="#4d4d4d" font-weight="normal" font-family="Liberation Sans, sans-serif" transform="translate(467.00 513.50) scale(0.62 1)" >L11</text>
<line x1="405.7" y1="540.9" x2="442.5" y2="540.9" stroke="#4a4a4a" stroke-width="0.8" />
<line x1="420.7" y1="541.5" x2="420.7" y2="565.5" stroke="#4a4a4a" stroke-width="0.9" />
<path d="M420.7,541.1 L421.9,545.1 L419.4,545.1 Z" fill="#333" stroke="none"/>
<path d="M420.7,566.0 L419.4,562.0 L421.9,562.0 Z" fill="#333" stroke="none"/>
<text x="0" y="0" font-size="12.5" text-anchor="middle" fill="#4d4d4d" font-weight="normal" font-family="Liberation Sans, sans-serif" transform="translate(419.60 553.00) rotate(-90) scale(0.72 1)" >20.7</text>
<line x1="439.6" y1="541.5" x2="439.6" y2="596.8" stroke="#4a4a4a" stroke-width="0.9" />
<path d="M439.6,541.1 L440.9,545.6 L438.4,545.6 Z" fill="#333" stroke="none"/>
<path d="M439.6,597.3 L438.4,592.8 L440.9,592.8 Z" fill="#333" stroke="none"/>
<text x="0" y="0" font-size="12.2" text-anchor="middle" fill="#4d4d4d" font-weight="normal" font-family="Liberation Sans, sans-serif" transform="translate(436.60 566.40) rotate(-90) scale(0.75 1)" >46</text>
<path d="M396.5,613.3 L392.5,614.5 L392.5,612.0 Z" fill="#333" stroke="none"/>
<path d="M344.4,613.3 L348.4,612.0 L348.4,614.5 Z" fill="#333" stroke="none"/>
<text x="0" y="0" font-size="11" text-anchor="start" fill="#4d4d4d" font-weight="normal" font-family="Liberation Sans, sans-serif" transform="translate(337.60 627.30) scale(0.88 1)" >4-ϕ6.7</text>
<line x1="332.0" y1="629.6" x2="371.6" y2="629.6" stroke="#4a4a4a" stroke-width="0.8" />
<line x1="332.0" y1="629.6" x2="338.2" y2="600.5" stroke="#4a4a4a" stroke-width="0.8" />
<path d="M338.4,599.8 L338.8,604.0 L336.4,603.5 Z" fill="#333" stroke="none"/>
<circle cx="426.7" cy="665.3" r="11.0" fill="none" stroke="#5a5a5a" stroke-width="1.0"/>
<text x="0" y="0" font-size="13.4" text-anchor="middle" fill="#5a5a5a" font-weight="normal" font-family="Liberation Sans, sans-serif" transform="translate(426.30 670.10) scale(0.66 1)" >7</text>
<line x1="422.0" y1="654.6" x2="406.0" y2="601.8" stroke="#4a4a4a" stroke-width="0.8" />
<line x1="199.2" y1="536.0" x2="199.2" y2="597.2" stroke="#4a4a4a" stroke-width="0.9" />
<path d="M199.2,535.6 L200.4,540.1 L197.9,540.1 Z" fill="#333" stroke="none"/>
<path d="M199.2,597.5 L197.9,593.0 L200.4,593.0 Z" fill="#333" stroke="none"/>
<text x="0" y="0" font-size="10.6" text-anchor="middle" fill="#4d4d4d" font-weight="normal" font-family="Liberation Sans, sans-serif" transform="translate(197.10 567.20) rotate(-90) scale(0.7 1)" >51</text>
<line x1="199.2" y1="597.8" x2="199.2" y2="621.0" stroke="#4a4a4a" stroke-width="0.9" />
<path d="M199.2,613.5 L200.4,619.5 L197.9,619.5 Z" fill="#333" stroke="none"/>
<text x="0" y="0" font-size="10.6" text-anchor="middle" fill="#4d4d4d" font-weight="normal" font-family="Liberation Sans, sans-serif" transform="translate(197.60 605.00) rotate(-90) scale(0.74 1)" >12</text>
<line x1="211.0" y1="546.2" x2="229.8" y2="546.2" stroke="#4a4a4a" stroke-width="0.8" />
<line x1="211.0" y1="588.4" x2="229.8" y2="588.4" stroke="#4a4a4a" stroke-width="0.8" />
<line x1="214.5" y1="546.8" x2="214.5" y2="587.8" stroke="#4a4a4a" stroke-width="0.9" />
<path d="M214.5,546.0 L215.8,552.0 L213.2,552.0 Z" fill="#333" stroke="none"/>
<path d="M214.5,588.8 L213.2,582.8 L215.8,582.8 Z" fill="#333" stroke="none"/>
<text x="0" y="0" font-size="11.4" text-anchor="middle" fill="#4d4d4d" font-weight="normal" font-family="Liberation Sans, sans-serif" transform="translate(212.60 567.60) rotate(-90) scale(0.78 1)" >ϕ35</text>
<line x1="229.6" y1="589.0" x2="229.6" y2="634.0" stroke="#4a4a4a" stroke-width="0.9" />
<line x1="229.6" y1="630.0" x2="294.9" y2="630.0" stroke="#4a4a4a" stroke-width="0.9" />
<path d="M229.6,630.0 L235.6,628.8 L235.6,631.2 Z" fill="#333" stroke="none"/>
<path d="M294.9,630.0 L288.9,631.2 L288.9,628.8 Z" fill="#333" stroke="none"/>
<text x="0" y="0" font-size="12" text-anchor="middle" fill="#4d4d4d" font-weight="normal" font-family="Liberation Sans, sans-serif" transform="translate(262.40 628.40) scale(0.68 1)" >L8</text>
<line x1="515.6" y1="588.0" x2="515.6" y2="633.0" stroke="#4a4a4a" stroke-width="0.9" />
<line x1="448.3" y1="628.7" x2="515.6" y2="628.7" stroke="#4a4a4a" stroke-width="0.9" />
<path d="M448.3,628.7 L454.3,627.5 L454.3,630.0 Z" fill="#333" stroke="none"/>
<path d="M515.6,628.7 L509.6,630.0 L509.6,627.5 Z" fill="#333" stroke="none"/>
<text x="0" y="0" font-size="12" text-anchor="middle" fill="#4d4d4d" font-weight="normal" font-family="Liberation Sans, sans-serif" transform="translate(481.40 628.00) scale(0.68 1)" >L9</text>
<line x1="515.0" y1="544.7" x2="536.0" y2="544.7" stroke="#4a4a4a" stroke-width="0.8" />
<line x1="515.0" y1="587.9" x2="536.0" y2="587.9" stroke="#4a4a4a" stroke-width="0.8" />
<line x1="532.4" y1="545.3" x2="532.4" y2="587.3" stroke="#4a4a4a" stroke-width="0.9" />
<path d="M532.4,545.0 L533.6,549.5 L531.1,549.5 Z" fill="#333" stroke="none"/>
<path d="M532.4,587.7 L531.1,583.2 L533.6,583.2 Z" fill="#333" stroke="none"/>
<text x="0" y="0" font-size="11.4" text-anchor="middle" fill="#4d4d4d" font-weight="normal" font-family="Liberation Sans, sans-serif" transform="translate(530.40 567.80) rotate(-90) scale(0.8 1)" >ϕ35</text>
<line x1="553.3" y1="527.4" x2="553.3" y2="613.0" stroke="#4a4a4a" stroke-width="0.9" />
<path d="M553.3,527.0 L554.5,532.0 L552.0,532.0 Z" fill="#333" stroke="none"/>
<path d="M553.3,613.4 L552.0,608.4 L554.5,608.4 Z" fill="#333" stroke="none"/>
<text x="0" y="0" font-size="11.6" text-anchor="middle" fill="#4d4d4d" font-weight="normal" font-family="Liberation Sans, sans-serif" transform="translate(552.00 569.50) rotate(-90) scale(0.78 1)" >69.5</text>
<circle cx="157.6" cy="479.0" r="11.0" fill="none" stroke="#5a5a5a" stroke-width="1.0"/>
<text x="0" y="0" font-size="13.4" text-anchor="middle" fill="#5a5a5a" font-weight="normal" font-family="Liberation Sans, sans-serif" transform="translate(157.20 483.80) scale(0.66 1)" >2</text>
<circle cx="157.6" cy="510.0" r="11.0" fill="none" stroke="#5a5a5a" stroke-width="1.0"/>
<text x="0" y="0" font-size="13.4" text-anchor="middle" fill="#5a5a5a" font-weight="normal" font-family="Liberation Sans, sans-serif" transform="translate(157.20 514.80) scale(0.66 1)" >8</text>
<circle cx="157.6" cy="540.4" r="11.0" fill="none" stroke="#5a5a5a" stroke-width="1.0"/>
<text x="0" y="0" font-size="13.4" text-anchor="middle" fill="#5a5a5a" font-weight="normal" font-family="Liberation Sans, sans-serif" transform="translate(157.20 545.20) scale(0.66 1)" >3</text>
<circle cx="157.6" cy="604.4" r="11.0" fill="none" stroke="#5a5a5a" stroke-width="1.0"/>
<text x="0" y="0" font-size="13.4" text-anchor="middle" fill="#5a5a5a" font-weight="normal" font-family="Liberation Sans, sans-serif" transform="translate(157.20 609.20) scale(0.66 1)" >9</text>
<circle cx="584.8" cy="477.0" r="11.0" fill="none" stroke="#5a5a5a" stroke-width="1.0"/>
<text x="0" y="0" font-size="13.4" text-anchor="middle" fill="#5a5a5a" font-weight="normal" font-family="Liberation Sans, sans-serif" transform="translate(584.40 481.80) scale(0.66 1)" >2</text>
<circle cx="585.9" cy="508.5" r="11.0" fill="none" stroke="#5a5a5a" stroke-width="1.0"/>
<text x="0" y="0" font-size="13.4" text-anchor="middle" fill="#5a5a5a" font-weight="normal" font-family="Liberation Sans, sans-serif" transform="translate(585.50 513.30) scale(0.66 1)" >8</text>
<circle cx="585.9" cy="538.7" r="11.0" fill="none" stroke="#5a5a5a" stroke-width="1.0"/>
<text x="0" y="0" font-size="13.4" text-anchor="middle" fill="#5a5a5a" font-weight="normal" font-family="Liberation Sans, sans-serif" transform="translate(585.50 543.50) scale(0.66 1)" >3</text>
<circle cx="585.9" cy="604.0" r="11.0" fill="none" stroke="#5a5a5a" stroke-width="1.0"/>
<text x="0" y="0" font-size="13.4" text-anchor="middle" fill="#5a5a5a" font-weight="normal" font-family="Liberation Sans, sans-serif" transform="translate(585.50 608.80) scale(0.66 1)" >9</text>
<line x1="168.3" y1="476.0" x2="222.7" y2="459.3" stroke="#4a4a4a" stroke-width="0.8" />
<line x1="167.6" y1="505.0" x2="248.0" y2="464.7" stroke="#4a4a4a" stroke-width="0.8" />
<line x1="167.0" y1="516.0" x2="239.2" y2="546.8" stroke="#4a4a4a" stroke-width="0.8" />
<line x1="168.5" y1="542.0" x2="229.6" y2="553.8" stroke="#4a4a4a" stroke-width="0.8" />
<line x1="168.0" y1="600.0" x2="229.6" y2="575.6" stroke="#4a4a4a" stroke-width="0.8" />
<line x1="574.2" y1="473.6" x2="518.0" y2="458.0" stroke="#4a4a4a" stroke-width="0.8" />
<line x1="575.6" y1="503.4" x2="499.0" y2="465.0" stroke="#4a4a4a" stroke-width="0.8" />
<line x1="575.4" y1="513.0" x2="503.6" y2="546.4" stroke="#4a4a4a" stroke-width="0.8" />
<line x1="575.0" y1="540.2" x2="515.6" y2="553.6" stroke="#4a4a4a" stroke-width="0.8" />
<line x1="575.3" y1="600.4" x2="515.6" y2="575.2" stroke="#4a4a4a" stroke-width="0.8" />
<text x="65.5" y="739.1" fill="#303030" stroke="#303030" stroke-width="0.25" font-family="Liberation Sans, sans-serif" textLength="36.4" lengthAdjust="spacingAndGlyphs"><tspan font-size="12.2">1 </tspan><tspan font-size="13">标牌</tspan></text>
<text x="65.5" y="755.7" fill="#303030" stroke="#303030" stroke-width="0.25" font-family="Liberation Sans, sans-serif" textLength="108.4" lengthAdjust="spacingAndGlyphs"><tspan font-size="12.2">2 </tspan><tspan font-size="13">压力调节装置</tspan><tspan font-size="12.2">"1"</tspan></text>
<text x="65.5" y="772.3" fill="#303030" stroke="#303030" stroke-width="0.25" font-family="Liberation Sans, sans-serif" textLength="108.4" lengthAdjust="spacingAndGlyphs"><tspan font-size="12.2">3 </tspan><tspan font-size="13">压力调节装置</tspan><tspan font-size="12.2">"2"</tspan></text>
<text x="65.5" y="788.9" fill="#303030" stroke="#303030" stroke-width="0.25" font-family="Liberation Sans, sans-serif" textLength="108.4" lengthAdjust="spacingAndGlyphs"><tspan font-size="12.2">4 </tspan><tspan font-size="13">压力调节装置</tspan><tspan font-size="12.2">"3"</tspan></text>
<text x="65.5" y="805.5" fill="#303030" stroke="#303030" stroke-width="0.25" font-family="Liberation Sans, sans-serif" textLength="108.4" lengthAdjust="spacingAndGlyphs"><tspan font-size="12.2">5 </tspan><tspan font-size="13">压力调节装置</tspan><tspan font-size="12.2">"7"</tspan></text>
<text x="65.5" y="822.1" fill="#303030" stroke="#303030" stroke-width="0.25" font-family="Liberation Sans, sans-serif" textLength="102.4" lengthAdjust="spacingAndGlyphs"><tspan font-size="12.2">6 </tspan><tspan font-size="13">拔出钥匙的距离</tspan></text>
<text x="65.5" y="838.7" fill="#303030" stroke="#303030" stroke-width="0.25" font-family="Liberation Sans, sans-serif" textLength="102.8" lengthAdjust="spacingAndGlyphs"><tspan font-size="12.2">7 </tspan><tspan font-size="13">阀固定用螺钉孔</tspan></text>
<text x="65.5" y="855.3" fill="#303030" stroke="#303030" stroke-width="0.25" font-family="Liberation Sans, sans-serif" textLength="86.0" lengthAdjust="spacingAndGlyphs"><tspan font-size="12.2">8 </tspan><tspan font-size="13">锁紧螺母</tspan><tspan font-size="12.2">S24</tspan></text>
<text x="65.5" y="871.9" fill="#303030" stroke="#303030" stroke-width="0.25" font-family="Liberation Sans, sans-serif" textLength="113.0" lengthAdjust="spacingAndGlyphs"><tspan font-size="12.2">9 </tspan><tspan font-size="13">六角调节螺母</tspan><tspan font-size="12.2">S10</tspan></text>
<text x="65.5" y="888.5" fill="#303030" stroke="#303030" stroke-width="0.25" font-family="Liberation Sans, sans-serif" textLength="54.3" lengthAdjust="spacingAndGlyphs"><tspan font-size="12.2">10 </tspan><tspan font-size="13">O型圈</tspan></text>
<text x="83.9" y="905.1" fill="#303030" stroke="#303030" stroke-width="0.25" font-family="Liberation Sans, sans-serif" textLength="28.9" lengthAdjust="spacingAndGlyphs"><tspan font-size="12.2">12*2</tspan></text>
<text x="83.9" y="921.7" fill="#303030" stroke="#303030" stroke-width="0.25" font-family="Liberation Sans, sans-serif" textLength="197.6" lengthAdjust="spacingAndGlyphs"><tspan font-size="13">用于油口A2、B2、P2、TA2、TB2</tspan></text>
<text x="65.5" y="938.3" fill="#303030" stroke="#303030" stroke-width="0.25" font-family="Liberation Sans, sans-serif" textLength="173.0" lengthAdjust="spacingAndGlyphs"><tspan font-size="12.2">11 </tspan><tspan font-size="13">螺母拧紧扭矩 MA=50Nm</tspan></text>
<text x="275.4" y="756.0" font-size="12" text-anchor="start" fill="#444" font-weight="normal" font-family="Liberation Sans, sans-serif" textLength="130.8" lengthAdjust="spacingAndGlyphs" >接表面精度和粗糙度要求</text>
<rect x="348.2" y="770.0" width="101.7" height="21.0" rx="0" fill="none" stroke="#555" stroke-width="0.9" />
<line x1="367.8" y1="770.0" x2="367.8" y2="791.0" stroke="#555" stroke-width="0.9" />
<path d="M352.5,785 L356,777 L363.5,777 L360,785 Z" fill="none" stroke="#444" stroke-width="0.9" />
<text x="374.8" y="785.8" font-size="11.5" text-anchor="start" fill="#444" font-weight="normal" font-family="Liberation Sans, sans-serif" textLength="56.6" lengthAdjust="spacingAndGlyphs" >0.01/100mm</text>
<line x1="348.2" y1="780.4" x2="309.8" y2="780.4" stroke="#555" stroke-width="0.9" />
<line x1="309.8" y1="780.4" x2="309.8" y2="823.0" stroke="#555" stroke-width="0.9" />
<path d="M309.8,823.8 L308.5,818.8 L311.1,818.8 Z" fill="#333" stroke="none"/>
<line x1="271.2" y1="823.8" x2="439.2" y2="823.8" stroke="#444" stroke-width="1" />
<clipPath id="hc"><rect x="271.2" y="824" width="168" height="37.6"/></clipPath>
<path d="M240.0,861.6 L277.6,824 M246.2,861.6 L283.8,824 M252.4,861.6 L290.0,824 M258.6,861.6 L296.2,824 M264.8,861.6 L302.4,824 M271.0,861.6 L308.6,824 M277.2,861.6 L314.8,824 M283.4,861.6 L321.0,824 M289.6,861.6 L327.2,824 M295.8,861.6 L333.4,824 M302.0,861.6 L339.6,824 M308.2,861.6 L345.8,824 M314.4,861.6 L352.0,824 M320.6,861.6 L358.2,824 M326.8,861.6 L364.4,824 M333.0,861.6 L370.6,824 M339.2,861.6 L376.8,824 M345.4,861.6 L383.0,824 M351.6,861.6 L389.2,824 M357.8,861.6 L395.4,824 M364.0,861.6 L401.6,824 M370.2,861.6 L407.8,824 M376.4,861.6 L414.0,824 M382.6,861.6 L420.2,824 M388.8,861.6 L426.4,824 M395.0,861.6 L432.6,824 M401.2,861.6 L438.8,824 M407.4,861.6 L445.0,824 M413.6,861.6 L451.2,824 M419.8,861.6 L457.4,824 M426.0,861.6 L463.6,824 M432.2,861.6 L469.8,824 M438.4,861.6 L476.0,824 M444.6,861.6 L482.2,824" stroke="#555" stroke-width="0.9" fill="none" clip-path="url(#hc)"/>
<path d="M365.9,814 L370.6,823.8 L381,805" fill="none" stroke="#444" stroke-width="0.9" />
<line x1="365.9" y1="814.0" x2="376.2" y2="814.0" stroke="#444" stroke-width="0.9" />
<text x="370.8" y="811.0" font-size="6.5" text-anchor="middle" fill="#444" font-weight="normal" font-family="Liberation Sans, sans-serif" >0.8</text>
<text x="311.8" y="941.5" font-family="Liberation Sans, sans-serif" fill="#3a3a3a" font-size="12"><tspan>拧紧扭矩</tspan><tspan font-size="11.5">M</tspan><tspan font-size="7" dy="2">A</tspan><tspan font-size="11.5" dy="-2"> =15.5 Nm</tspan></text>
<line x1="551.7" y1="757.4" x2="654.8" y2="757.4" stroke="#f3a676" stroke-width="0.9" />
<line x1="497.7" y1="775.6" x2="654.8" y2="775.6" stroke="#f3a676" stroke-width="0.9" />
<line x1="497.7" y1="793.3" x2="654.8" y2="793.3" stroke="#f3a676" stroke-width="0.9" />
<line x1="497.7" y1="811.6" x2="654.8" y2="811.6" stroke="#f3a676" stroke-width="0.9" />
<line x1="497.7" y1="829.3" x2="654.8" y2="829.3" stroke="#f3a676" stroke-width="0.9" />
<line x1="497.7" y1="847.0" x2="654.8" y2="847.0" stroke="#f3a676" stroke-width="0.9" />
<line x1="497.7" y1="864.8" x2="654.8" y2="864.8" stroke="#f3a676" stroke-width="0.9" />
<line x1="497.7" y1="882.8" x2="654.8" y2="882.8" stroke="#f3a676" stroke-width="0.9" />
<line x1="497.7" y1="900.5" x2="654.8" y2="900.5" stroke="#f3a676" stroke-width="0.9" />
<line x1="497.7" y1="918.8" x2="654.8" y2="918.8" stroke="#f3a676" stroke-width="0.9" />
<line x1="497.7" y1="936.5" x2="654.8" y2="936.5" stroke="#f3a676" stroke-width="0.9" />
<line x1="497.7" y1="954.2" x2="654.8" y2="954.2" stroke="#f3a676" stroke-width="0.9" />
<line x1="551.7" y1="739.6" x2="551.7" y2="972.0" stroke="#f3a676" stroke-width="0.9" />
<line x1="603.4" y1="757.4" x2="603.4" y2="972.0" stroke="#f3a676" stroke-width="0.9" />
<rect x="497.7" y="738.6" width="157.1" height="2.2" fill="#ef7e35"/>
<rect x="497.7" y="971" width="157.1" height="2.2" fill="#ef7e35"/>
<text x="524.3" y="762.3" font-size="12.5" text-anchor="middle" fill="#222" font-weight="normal" font-family="Liberation Sans, sans-serif" textLength="25" lengthAdjust="spacingAndGlyphs" >尺寸</text>
<text x="602.8" y="754.8" font-size="13" text-anchor="middle" fill="#222" font-weight="normal" font-family="Liberation Sans, sans-serif" >Z2DB10</text>
<text x="576.7" y="773.2" font-size="13" text-anchor="middle" fill="#222" font-weight="normal" font-family="Liberation Sans, sans-serif" >VC</text>
<text x="628.2" y="773.2" font-size="13" text-anchor="middle" fill="#222" font-weight="normal" font-family="Liberation Sans, sans-serif" >VD</text>
<text x="523.0" y="790.1" font-size="13" text-anchor="middle" fill="#222" font-weight="normal" font-family="Liberation Sans, sans-serif" >L1</text>
<text x="576.3" y="790.1" font-size="13" text-anchor="middle" fill="#222" font-weight="normal" font-family="Liberation Sans, sans-serif" >123</text>
<text x="628.2" y="790.1" font-size="13" text-anchor="middle" fill="#222" font-weight="normal" font-family="Liberation Sans, sans-serif" >132</text>
<text x="523.0" y="808.1" font-size="13" text-anchor="middle" fill="#222" font-weight="normal" font-family="Liberation Sans, sans-serif" >L2</text>
<text x="576.3" y="808.1" font-size="13" text-anchor="middle" fill="#222" font-weight="normal" font-family="Liberation Sans, sans-serif" >111</text>
<text x="628.2" y="808.1" font-size="13" text-anchor="middle" fill="#222" font-weight="normal" font-family="Liberation Sans, sans-serif" >107</text>
<text x="523.0" y="826.1" font-size="13" text-anchor="middle" fill="#222" font-weight="normal" font-family="Liberation Sans, sans-serif" >L3</text>
<text x="576.3" y="826.1" font-size="13" text-anchor="middle" fill="#222" font-weight="normal" font-family="Liberation Sans, sans-serif" >112</text>
<text x="628.2" y="826.1" font-size="13" text-anchor="middle" fill="#222" font-weight="normal" font-family="Liberation Sans, sans-serif" >112</text>
<text x="523.0" y="843.8" font-size="13" text-anchor="middle" fill="#222" font-weight="normal" font-family="Liberation Sans, sans-serif" >L4</text>
<text x="576.3" y="843.8" font-size="13" text-anchor="middle" fill="#222" font-weight="normal" font-family="Liberation Sans, sans-serif" >89</text>
<text x="628.2" y="843.8" font-size="13" text-anchor="middle" fill="#222" font-weight="normal" font-family="Liberation Sans, sans-serif" >85</text>
<text x="523.0" y="861.5" font-size="13" text-anchor="middle" fill="#222" font-weight="normal" font-family="Liberation Sans, sans-serif" >L5</text>
<text x="576.3" y="861.5" font-size="13" text-anchor="middle" fill="#222" font-weight="normal" font-family="Liberation Sans, sans-serif" >90</text>
<text x="628.2" y="861.5" font-size="13" text-anchor="middle" fill="#222" font-weight="normal" font-family="Liberation Sans, sans-serif" >90</text>
<text x="523.0" y="879.4" font-size="13" text-anchor="middle" fill="#222" font-weight="normal" font-family="Liberation Sans, sans-serif" >L6</text>
<text x="576.3" y="879.4" font-size="13" text-anchor="middle" fill="#222" font-weight="normal" font-family="Liberation Sans, sans-serif" >59</text>
<text x="628.2" y="879.4" font-size="13" text-anchor="middle" fill="#222" font-weight="normal" font-family="Liberation Sans, sans-serif" >56</text>
<text x="523.0" y="897.2" font-size="13" text-anchor="middle" fill="#222" font-weight="normal" font-family="Liberation Sans, sans-serif" >L7</text>
<text x="576.3" y="897.2" font-size="13" text-anchor="middle" fill="#222" font-weight="normal" font-family="Liberation Sans, sans-serif" >60</text>
<text x="628.2" y="897.2" font-size="13" text-anchor="middle" fill="#222" font-weight="normal" font-family="Liberation Sans, sans-serif" >56</text>
<text x="523.0" y="915.2" font-size="13" text-anchor="middle" fill="#222" font-weight="normal" font-family="Liberation Sans, sans-serif" >L8</text>
<text x="576.3" y="915.2" font-size="13" text-anchor="middle" fill="#222" font-weight="normal" font-family="Liberation Sans, sans-serif" >52</text>
<text x="628.2" y="915.2" font-size="13" text-anchor="middle" fill="#222" font-weight="normal" font-family="Liberation Sans, sans-serif" >49</text>
<text x="523.0" y="933.2" font-size="13" text-anchor="middle" fill="#222" font-weight="normal" font-family="Liberation Sans, sans-serif" >L9</text>
<text x="576.3" y="933.2" font-size="13" text-anchor="middle" fill="#222" font-weight="normal" font-family="Liberation Sans, sans-serif" >53</text>
<text x="628.2" y="933.2" font-size="13" text-anchor="middle" fill="#222" font-weight="normal" font-family="Liberation Sans, sans-serif" >49</text>
<text x="523.0" y="951.0" font-size="13" text-anchor="middle" fill="#222" font-weight="normal" font-family="Liberation Sans, sans-serif" >L10</text>
<text x="576.3" y="951.0" font-size="13" text-anchor="middle" fill="#222" font-weight="normal" font-family="Liberation Sans, sans-serif" >2</text>
<text x="628.2" y="951.0" font-size="13" text-anchor="middle" fill="#222" font-weight="normal" font-family="Liberation Sans, sans-serif" >6</text>
<text x="523.0" y="968.7" font-size="13" text-anchor="middle" fill="#222" font-weight="normal" font-family="Liberation Sans, sans-serif" >L11</text>
<text x="576.3" y="968.7" font-size="13" text-anchor="middle" fill="#222" font-weight="normal" font-family="Liberation Sans, sans-serif" >1</text>
<text x="628.2" y="968.7" font-size="13" text-anchor="middle" fill="#222" font-weight="normal" font-family="Liberation Sans, sans-serif" >6</text>
<path d="M356.5,1006.2 L362.4,1009.2 L356.5,1012.1 Z" fill="#ee7423"/>
<text x="370.7" y="1012.6" font-size="10.3" text-anchor="start" fill="#333" font-weight="normal" font-family="Liberation Sans, sans-serif" textLength="25.3" lengthAdjust="spacingAndGlyphs" >B-19</text>
<text x="600.9" y="1014.8" font-size="10.2" text-anchor="start" fill="#222" font-weight="bold" font-family="Liberation Sans, sans-serif" textLength="83.5" lengthAdjust="spacingAndGlyphs" >版权所有,侵权必究</text>
<g font-family="Liberation Sans, sans-serif" font-weight="bold" font-size="33" fill="#dbe6e1" fill-opacity="0.3">
<g transform="translate(59.09999999999991,286.6) rotate(-15)"><text x="0" y="0" textLength="106" lengthAdjust="spacingAndGlyphs">CCLair</text><circle cx="120" cy="-27" r="4.5" fill="none" stroke="#dbe6e1" stroke-opacity="0.3" stroke-width="1"/></g>
<g transform="translate(263.4,231.4) rotate(-15)"><text x="0" y="0" textLength="106" lengthAdjust="spacingAndGlyphs">CCLair</text><circle cx="120" cy="-27" r="4.5" fill="none" stroke="#dbe6e1" stroke-opacity="0.3" stroke-width="1"/></g>
<g transform="translate(467.7,176.2) rotate(-15)"><text x="0" y="0" textLength="106" lengthAdjust="spacingAndGlyphs">CCLair</text><circle cx="120" cy="-27" r="4.5" fill="none" stroke="#dbe6e1" stroke-opacity="0.3" stroke-width="1"/></g>
<g transform="translate(672.0,121.0) rotate(-15)"><text x="0" y="0" textLength="106" lengthAdjust="spacingAndGlyphs">CCLair</text><circle cx="120" cy="-27" r="4.5" fill="none" stroke="#dbe6e1" stroke-opacity="0.3" stroke-width="1"/></g>
<g transform="translate(-13.800000000000068,422.40000000000003) rotate(-15)"><text x="0" y="0" textLength="106" lengthAdjust="spacingAndGlyphs">CCLair</text><circle cx="120" cy="-27" r="4.5" fill="none" stroke="#dbe6e1" stroke-opacity="0.3" stroke-width="1"/></g>
<g transform="translate(190.5,367.20000000000005) rotate(-15)"><text x="0" y="0" textLength="106" lengthAdjust="spacingAndGlyphs">CCLair</text><circle cx="120" cy="-27" r="4.5" fill="none" stroke="#dbe6e1" stroke-opacity="0.3" stroke-width="1"/></g>
<g transform="translate(394.8,312.0) rotate(-15)"><text x="0" y="0" textLength="106" lengthAdjust="spacingAndGlyphs">CCLair</text><circle cx="120" cy="-27" r="4.5" fill="none" stroke="#dbe6e1" stroke-opacity="0.3" stroke-width="1"/></g>
<g transform="translate(599.1,256.8) rotate(-15)"><text x="0" y="0" textLength="106" lengthAdjust="spacingAndGlyphs">CCLair</text><circle cx="120" cy="-27" r="4.5" fill="none" stroke="#dbe6e1" stroke-opacity="0.3" stroke-width="1"/></g>
<g transform="translate(-86.70000000000005,558.2) rotate(-15)"><text x="0" y="0" textLength="106" lengthAdjust="spacingAndGlyphs">CCLair</text><circle cx="120" cy="-27" r="4.5" fill="none" stroke="#dbe6e1" stroke-opacity="0.3" stroke-width="1"/></g>
<g transform="translate(117.60000000000002,503.0) rotate(-15)"><text x="0" y="0" textLength="106" lengthAdjust="spacingAndGlyphs">CCLair</text><circle cx="120" cy="-27" r="4.5" fill="none" stroke="#dbe6e1" stroke-opacity="0.3" stroke-width="1"/></g>
<g transform="translate(321.90000000000003,447.8) rotate(-15)"><text x="0" y="0" textLength="106" lengthAdjust="spacingAndGlyphs">CCLair</text><circle cx="120" cy="-27" r="4.5" fill="none" stroke="#dbe6e1" stroke-opacity="0.3" stroke-width="1"/></g>
<g transform="translate(526.2,392.6) rotate(-15)"><text x="0" y="0" textLength="106" lengthAdjust="spacingAndGlyphs">CCLair</text><circle cx="120" cy="-27" r="4.5" fill="none" stroke="#dbe6e1" stroke-opacity="0.3" stroke-width="1"/></g>
<g transform="translate(730.5,337.40000000000003) rotate(-15)"><text x="0" y="0" textLength="106" lengthAdjust="spacingAndGlyphs">CCLair</text><circle cx="120" cy="-27" r="4.5" fill="none" stroke="#dbe6e1" stroke-opacity="0.3" stroke-width="1"/></g>
<g transform="translate(44.69999999999993,638.8000000000001) rotate(-15)"><text x="0" y="0" textLength="106" lengthAdjust="spacingAndGlyphs">CCLair</text><circle cx="120" cy="-27" r="4.5" fill="none" stroke="#dbe6e1" stroke-opacity="0.3" stroke-width="1"/></g>
<g transform="translate(248.99999999999994,583.6000000000001) rotate(-15)"><text x="0" y="0" textLength="106" lengthAdjust="spacingAndGlyphs">CCLair</text><circle cx="120" cy="-27" r="4.5" fill="none" stroke="#dbe6e1" stroke-opacity="0.3" stroke-width="1"/></g>
<g transform="translate(453.29999999999995,528.4000000000001) rotate(-15)"><text x="0" y="0" textLength="106" lengthAdjust="spacingAndGlyphs">CCLair</text><circle cx="120" cy="-27" r="4.5" fill="none" stroke="#dbe6e1" stroke-opacity="0.3" stroke-width="1"/></g>
<g transform="translate(657.5999999999999,473.2000000000001) rotate(-15)"><text x="0" y="0" textLength="106" lengthAdjust="spacingAndGlyphs">CCLair</text><circle cx="120" cy="-27" r="4.5" fill="none" stroke="#dbe6e1" stroke-opacity="0.3" stroke-width="1"/></g>
<g transform="translate(-28.200000000000045,774.6) rotate(-15)"><text x="0" y="0" textLength="106" lengthAdjust="spacingAndGlyphs">CCLair</text><circle cx="120" cy="-27" r="4.5" fill="none" stroke="#dbe6e1" stroke-opacity="0.3" stroke-width="1"/></g>
<g transform="translate(176.09999999999997,719.4000000000001) rotate(-15)"><text x="0" y="0" textLength="106" lengthAdjust="spacingAndGlyphs">CCLair</text><circle cx="120" cy="-27" r="4.5" fill="none" stroke="#dbe6e1" stroke-opacity="0.3" stroke-width="1"/></g>
<g transform="translate(380.4,664.2) rotate(-15)"><text x="0" y="0" textLength="106" lengthAdjust="spacingAndGlyphs">CCLair</text><circle cx="120" cy="-27" r="4.5" fill="none" stroke="#dbe6e1" stroke-opacity="0.3" stroke-width="1"/></g>
<g transform="translate(584.7,609.0) rotate(-15)"><text x="0" y="0" textLength="106" lengthAdjust="spacingAndGlyphs">CCLair</text><circle cx="120" cy="-27" r="4.5" fill="none" stroke="#dbe6e1" stroke-opacity="0.3" stroke-width="1"/></g>
<g transform="translate(-101.10000000000002,910.4) rotate(-15)"><text x="0" y="0" textLength="106" lengthAdjust="spacingAndGlyphs">CCLair</text><circle cx="120" cy="-27" r="4.5" fill="none" stroke="#dbe6e1" stroke-opacity="0.3" stroke-width="1"/></g>
<g transform="translate(103.19999999999999,855.2) rotate(-15)"><text x="0" y="0" textLength="106" lengthAdjust="spacingAndGlyphs">CCLair</text><circle cx="120" cy="-27" r="4.5" fill="none" stroke="#dbe6e1" stroke-opacity="0.3" stroke-width="1"/></g>
<g transform="translate(307.5,800.0) rotate(-15)"><text x="0" y="0" textLength="106" lengthAdjust="spacingAndGlyphs">CCLair</text><circle cx="120" cy="-27" r="4.5" fill="none" stroke="#dbe6e1" stroke-opacity="0.3" stroke-width="1"/></g>
<g transform="translate(511.8,744.8) rotate(-15)"><text x="0" y="0" textLength="106" lengthAdjust="spacingAndGlyphs">CCLair</text><circle cx="120" cy="-27" r="4.5" fill="none" stroke="#dbe6e1" stroke-opacity="0.3" stroke-width="1"/></g>
<g transform="translate(716.1,689.6) rotate(-15)"><text x="0" y="0" textLength="106" lengthAdjust="spacingAndGlyphs">CCLair</text><circle cx="120" cy="-27" r="4.5" fill="none" stroke="#dbe6e1" stroke-opacity="0.3" stroke-width="1"/></g>
<g transform="translate(30.299999999999955,991.0000000000001) rotate(-15)"><text x="0" y="0" textLength="106" lengthAdjust="spacingAndGlyphs">CCLair</text><circle cx="120" cy="-27" r="4.5" fill="none" stroke="#dbe6e1" stroke-opacity="0.3" stroke-width="1"/></g>
<g transform="translate(234.59999999999997,935.8000000000001) rotate(-15)"><text x="0" y="0" textLength="106" lengthAdjust="spacingAndGlyphs">CCLair</text><circle cx="120" cy="-27" r="4.5" fill="none" stroke="#dbe6e1" stroke-opacity="0.3" stroke-width="1"/></g>
<g transform="translate(438.9,880.6) rotate(-15)"><text x="0" y="0" textLength="106" lengthAdjust="spacingAndGlyphs">CCLair</text><circle cx="120" cy="-27" r="4.5" fill="none" stroke="#dbe6e1" stroke-opacity="0.3" stroke-width="1"/></g>
<g transform="translate(643.2,825.4000000000001) rotate(-15)"><text x="0" y="0" textLength="106" lengthAdjust="spacingAndGlyphs">CCLair</text><circle cx="120" cy="-27" r="4.5" fill="none" stroke="#dbe6e1" stroke-opacity="0.3" stroke-width="1"/></g>
<g transform="translate(161.69999999999993,1071.6000000000001) rotate(-15)"><text x="0" y="0" textLength="106" lengthAdjust="spacingAndGlyphs">CCLair</text><circle cx="120" cy="-27" r="4.5" fill="none" stroke="#dbe6e1" stroke-opacity="0.3" stroke-width="1"/></g>
<g transform="translate(365.99999999999994,1016.4000000000001) rotate(-15)"><text x="0" y="0" textLength="106" lengthAdjust="spacingAndGlyphs">CCLair</text><circle cx="120" cy="-27" r="4.5" fill="none" stroke="#dbe6e1" stroke-opacity="0.3" stroke-width="1"/></g>
<g transform="translate(570.3,961.2000000000002) rotate(-15)"><text x="0" y="0" textLength="106" lengthAdjust="spacingAndGlyphs">CCLair</text><circle cx="120" cy="-27" r="4.5" fill="none" stroke="#dbe6e1" stroke-opacity="0.3" stroke-width="1"/></g>
</g>
</svg></body></html>
